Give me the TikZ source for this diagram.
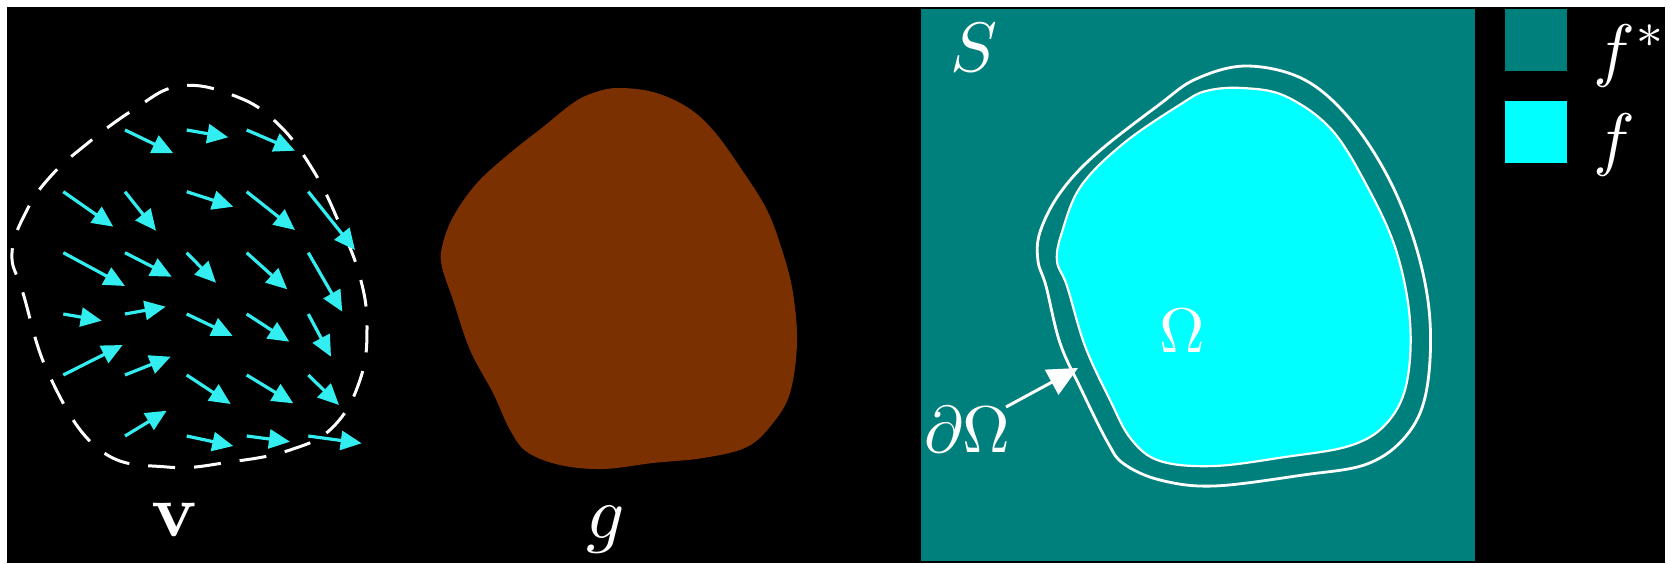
\documentclass[tikz,border=0pt]{standalone}
\usepackage{graphicx}
\usetikzlibrary{arrows.meta}
\definecolor{tealS}{RGB}{0,128,124}
\definecolor{brownG}{RGB}{122,48,0}
\definecolor{cyanF}{RGB}{0,255,255}
\definecolor{arrowC}{RGB}{51,238,240}
\newcommand\bigtxt[2]{\scalebox{#1}{#2}}
\tikzset{
  fieldarrow/.style={draw=arrowC, line width=3.2pt, -{Triangle[length=21pt,width=19pt]}, arrowC},
  bigtext/.style={text=white, inner sep=0pt, font=\fontsize{10}{12}\selectfont},
  dashcurve/.style={draw=white, line width=3pt, dash pattern=on 27pt off 19pt},
  wline/.style={draw=white, line width=2.8pt}
}
\begin{document}
\begin{tikzpicture}[x=1pt,y=-1pt]
\useasboundingbox (0,0) rectangle (1671,563);
\fill[white] (0,0) rectangle (1671,563);
\fill[black] (7,7) rectangle (1665,563);

% ---------- left panel: vector field ----------
\draw[dashcurve] plot[smooth cycle, tension=0.7] coordinates {
 (180,86) (235,96) (277,123) (313,170) (340,225) (360,277) (367,327) (360,380)
 (333,427) (290,450) (230,462) (167,467) (100,450) (50,377) (23,293) (12,253)
 (27,210) (50,177) (83,147) (133,110)};

\foreach \ax/\ay/\bx/\by in {
 125/130/173.3/153.3, 186.7/130/228.3/137.3, 246.7/130/295/150.7,
 63.3/191.7/113.3/226.7, 125/191.7/156/230.7, 186.7/191.7/233.3/206.7, 246.7/191.7/295/230, 308.3/191.7/355/250,
 63.3/252.7/125/286, 125/252.7/171.7/276.7, 186.7/252.7/216/282.7, 246.7/252.7/287.3/289.3, 308.3/252.7/342.3/311.7,
 63.3/314/101.7/320.7, 125/314/165.7/306.7, 186.7/314/232.7/336, 246.7/314/289.3/341.7, 308.3/314/331/356.7,
 63.3/375/122.7/345, 125/375/170.7/356.7, 186.7/375/230.7/404, 246.7/375/293.3/403.3, 308.3/375/339/405,
 125/436/166.7/410.7, 186.7/436/233.3/446, 246.7/436/290/441.7, 308.3/436/361.7/443.3}
 \draw[fieldarrow] (\ax,\ay) -- (\bx,\by);

\node[bigtext, anchor=base] (vlabel) at (175,536) {\bigtxt{7.5}{$\mathbf{v}$}};

% ---------- middle panel: g ----------
\fill[brownG] plot[smooth cycle, tension=0.6] coordinates {
 (617,88) (653,92) (687,107) (713,130) (740,167) (767,210) (783,253) (793,293)
 (797,343) (790,393) (773,423) (747,447) (703,458) (653,463) (603,469) (560,465)
 (527,452) (510,430) (493,393) (470,350) (453,300) (442,267) (442,247) (453,217)
 (477,183) (510,153) (543,127) (573,103) (593,93)};

\node[bigtext, anchor=base] (glabel) at (606,538) {\bigtxt{7.5}{$g$}};

% ---------- right panel ----------
\fill[tealS] (921,9) rectangle (1475,561);

\draw[wline] plot[smooth cycle, tension=0.6] coordinates {
 (1246,66) (1303,79) (1349,118) (1389,179) (1417,250) (1430,321) (1426,393)
 (1406,436) (1367,464) (1303,475) (1214,486) (1160,480) (1124,464) (1108,443)
 (1081,389) (1060,343) (1046,286) (1038,261) (1040,232) (1060,193) (1096,154)
 (1160,104) (1196,79)};

\filldraw[fill=cyanF, draw=white, line width=2.2pt] plot[smooth cycle, tension=0.6] coordinates {
 (1242,88) (1285,96) (1331,129) (1367,186) (1396,250) (1410,321) (1406,386)
 (1385,425) (1349,446) (1285,457) (1214,466) (1160,461) (1131,439) (1110,400)
 (1085,346) (1067,286) (1057,261) (1062,232) (1081,186) (1124,143) (1181,104)
 (1206,91)};

\node[bigtext, anchor=base west] (Slabel) at (950,71) {\bigtxt{7}{$S$}};
\node[bigtext, anchor=base] (Omlabel) at (1182,352) {\bigtxt{6.3}{$\Omega$}};
\node[bigtext, anchor=base west] (dOmlabel) at (924,452) {\bigtxt{6.6}{$\partial\Omega$}};

\coordinate (dtail) at (1006,407);
\coordinate (dtip) at (1078,368);
\draw[white, line width=3pt, -{Triangle[length=30pt,width=28pt]}] (dtail) -- (dtip);

% ---------- legend ----------
\fill[tealS] (1505,9) rectangle (1567,71);
\fill[cyanF] (1505,101) rectangle (1567,163);
\node[bigtext, anchor=base west] (fstar) at (1593,73) {\bigtxt{7}{$f^{\smash{*}}$}};
\node[bigtext, anchor=base west] (flabel) at (1593,162) {\bigtxt{7}{$f$}};
\end{tikzpicture}
\end{document}
